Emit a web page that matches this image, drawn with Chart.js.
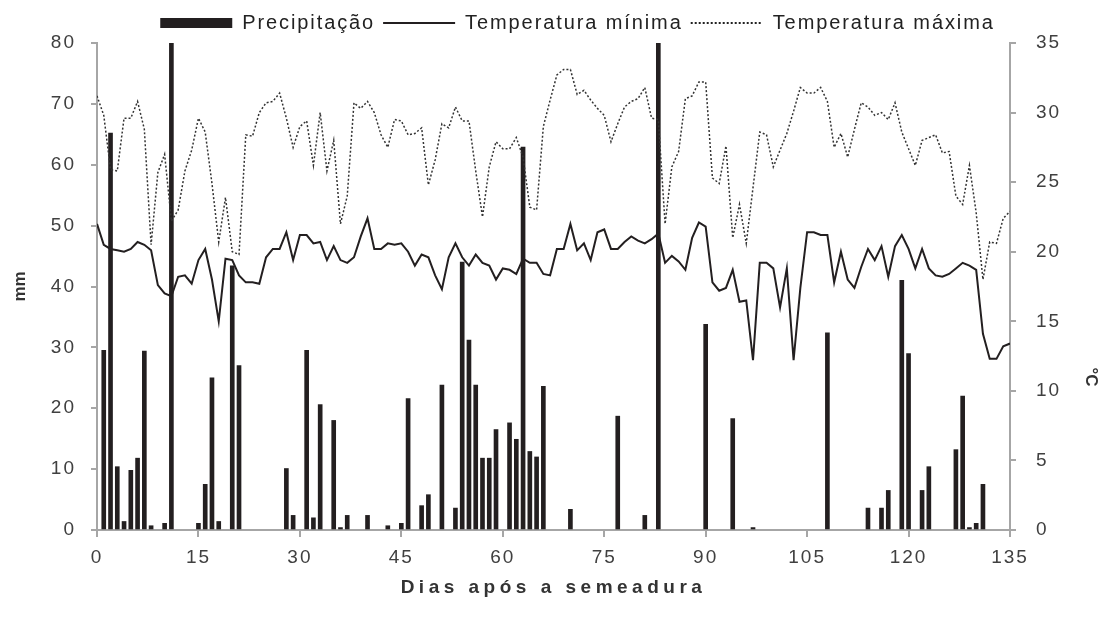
<!DOCTYPE html>
<html>
<head>
<meta charset="utf-8">
<script src="https://cdn.jsdelivr.net/npm/chart.js@4"></script>
<style>
  html, body { margin: 0; padding: 0; background: #fff; }
</style>
</head>
<body>
<canvas id="myChart" width="1111" height="632"></canvas>
<script>
// days after sowing that had rain, and the rain in mm
const rainDays = [1, 2, 3, 4, 5, 6, 7, 8, 10, 11, 15, 16, 17, 18, 20, 21, 28, 29, 31, 32,
    33, 35, 36, 37, 40, 43, 45, 46, 48, 49, 51, 53, 54, 55, 56, 57, 58, 59, 61, 62,
    63, 64, 65, 66, 70, 77, 81, 83, 90, 94, 97, 108, 114, 116, 117, 119, 120, 122, 123, 127,
    128, 129, 130, 131];
const rainMm = [29.5, 65.2, 10.4, 1.4, 9.8, 11.8, 29.4, 0.7, 1.1, 80, 1.1, 7.5, 25.0, 1.4, 43.4, 27.0, 10.1, 2.4, 29.5, 2.0,
    20.6, 18.0, 0.4, 2.4, 2.4, 0.7, 1.1, 21.6, 4.0, 5.8, 23.8, 3.6, 44.0, 31.2, 23.8, 11.8, 11.8, 16.5, 17.6, 14.9,
    62.9, 12.9, 12.0, 23.6, 3.4, 18.7, 2.4, 80, 33.8, 18.3, 0.4, 32.4, 3.6, 3.6, 6.5, 41.0, 29.0, 6.5, 10.4, 13.2,
    22.0, 0.4, 1.1, 7.5];

// daily temperatures, day 0 .. 135
const tempMin = [
    22.0, 20.5, 20.2, 20.1, 20.0, 20.2, 20.7, 20.5, 20.1, 17.6,
    17.0, 16.8, 18.2, 18.3, 17.7, 19.4, 20.2, 18.0, 15.0, 19.5,
    19.4, 18.3, 17.8, 17.8, 17.7, 19.6, 20.2, 20.2, 21.4, 19.4,
    21.2, 21.2, 20.6, 20.7, 19.4, 20.4, 19.4, 19.2, 19.6, 21.1,
    22.4, 20.2, 20.2, 20.6, 20.5, 20.6, 20.0, 19.0, 19.8, 19.6,
    18.3, 17.3, 19.6, 20.6, 19.6, 19.0, 19.8, 19.2, 19.0, 18.0,
    18.8, 18.7, 18.4, 19.5, 19.2, 19.2, 18.4, 18.3, 20.2, 20.2,
    22.0, 20.1, 20.6, 19.4, 21.4, 21.6, 20.2, 20.2, 20.7, 21.1,
    20.8, 20.6, 20.9, 21.3, 19.2, 19.7, 19.3, 18.7, 21.0, 22.1,
    21.8, 17.8, 17.2, 17.4, 18.7, 16.4, 16.5, 12.2, 19.2, 19.2,
    18.8, 16.0, 18.8, 12.2, 17.4, 21.4, 21.4, 21.2, 21.2, 17.8,
    20.0, 18.0, 17.4, 18.9, 20.2, 19.4, 20.4, 18.2, 20.4, 21.2,
    20.2, 18.8, 20.2, 18.8, 18.3, 18.2, 18.4, 18.8, 19.2, 19.0,
    18.7, 14.1, 12.3, 12.3, 13.2, 13.4];
const tempMax = [
    31.2, 29.8, 25.9, 25.8, 29.6, 29.6, 30.8, 28.8, 20.5, 25.7,
    27.0, 22.2, 23.0, 25.8, 27.3, 29.6, 28.6, 24.9, 20.7, 23.9,
    20.0, 19.8, 28.4, 28.3, 30.0, 30.7, 30.8, 31.4, 29.6, 27.5,
    29.0, 29.4, 26.2, 30.0, 25.8, 28.0, 22.0, 24.0, 30.7, 30.3,
    30.8, 30.0, 28.4, 27.5, 29.5, 29.4, 28.4, 28.5, 28.9, 24.8,
    26.6, 29.2, 28.9, 30.4, 29.4, 29.4, 25.8, 22.5, 26.1, 27.9,
    27.4, 27.4, 28.2, 26.8, 23.2, 23.0, 29.0, 30.9, 32.7, 33.1,
    33.1, 31.3, 31.6, 30.9, 30.3, 29.8, 27.9, 29.2, 30.4, 30.8,
    31.0, 31.8, 29.6, 29.5, 22.0, 26.1, 27.2, 31.0, 31.2, 32.2,
    32.2, 25.3, 24.9, 27.6, 21.0, 23.4, 20.6, 24.6, 28.6, 28.4,
    26.1, 27.3, 28.5, 30.1, 31.8, 31.4, 31.4, 31.8, 30.8, 27.5,
    28.5, 26.8, 28.8, 30.7, 30.4, 29.8, 30.0, 29.5, 30.7, 28.6,
    27.4, 26.2, 28.0, 28.2, 28.4, 27.1, 27.2, 24.0, 23.4, 26.2,
    22.8, 18.0, 20.7, 20.6, 22.4, 22.9];

const rainPoints = rainDays.map((d, i) => ({ x: d, y: rainMm[i] }));
const minPoints = tempMin.map((t, d) => ({ x: d, y: t }));
const maxPoints = tempMax.map((t, d) => ({ x: d, y: t }));

const axisGray = '#a6a6a6';
const labelColor = '#404040';
const family = '"Liberation Sans", Arial, sans-serif';

Chart.defaults.font.family = family;
Chart.defaults.color = labelColor;

// the original text is set wide; give each text size its own letter spacing
const canvas = document.getElementById('myChart');
const g = canvas.getContext('2d');
function spacingFor(font) {
    if (font.indexOf('bold') >= 0) return font.indexOf('19px') >= 0 ? '4.5px' : '0px';
    if (font.indexOf('20px') >= 0) return '1.9px';
    if (font.indexOf('19px') >= 0) return '2px';
    return '0px';
}
if ('letterSpacing' in g) {
    const origFill = g.fillText.bind(g);
    const origMeasure = g.measureText.bind(g);
    g.fillText = function (...args) { g.letterSpacing = spacingFor(g.font); return origFill(...args); };
    g.measureText = function (t) { g.letterSpacing = spacingFor(g.font); return origMeasure(t); };
}

// right-hand axis title sits below the middle of the axis in the original
const rightTitle = {
    id: 'rightTitle',
    afterDraw(chart) {
        const c = chart.ctx;
        c.save();
        c.translate(1091, 377);
        c.rotate(Math.PI / 2);
        c.font = 'bold 17px ' + family;
        c.fillStyle = '#333';
        c.textAlign = 'center';
        c.textBaseline = 'middle';
        c.fillText('°C', 0, 0);
        c.restore();
    }
};

const data = {
    datasets: [{
        type: 'bar',
        label: 'Precipitação',
        data: rainPoints,
        backgroundColor: '#231f20',
        borderWidth: 0,
        barThickness: 4,
        yAxisID: 'y',
        order: 2
    }, {
        type: 'line',
        label: 'Temperatura mínima',
        data: minPoints,
        borderColor: '#231f20',
        backgroundColor: '#231f20',
        borderWidth: 2,
        pointRadius: 0,
        tension: 0,
        yAxisID: 'y1',
        order: 1
    }, {
        type: 'line',
        label: 'Temperatura máxima',
        data: maxPoints,
        borderColor: '#333333',
        backgroundColor: '#333333',
        borderWidth: 1.5,
        borderDash: [2, 2],
        pointRadius: 0,
        tension: 0,
        yAxisID: 'y1',
        order: 0
    }]
};

const config = {
    type: 'bar',
    data: data,
    plugins: [rightTitle],
    options: {
        responsive: false,
        animation: false,
        layout: { padding: { top: 5, left: 44, right: 0, bottom: 0 } },
        plugins: {
            tooltip: { enabled: false },
            legend: {
                position: 'top',
                labels: {
                    usePointStyle: true,
                    pointStyleWidth: 72,
                    boxHeight: 10,
                    padding: 8,
                    color: '#222',
                    font: { size: 20 },
                    generateLabels: (chart) => {
                        const items = Chart.defaults.plugins.legend.labels.generateLabels(chart);
                        items.sort((a, b) => a.datasetIndex - b.datasetIndex);
                        items[0].pointStyle = 'rect';
                        items[0].lineWidth = 0;
                        items[1].pointStyle = 'line';
                        items[2].pointStyle = 'line';
                        items[2].lineWidth = 2;
                        items[2].lineDash = [2, 2];
                        items[2].strokeStyle = '#222';
                        return items;
                    }
                }
            }
        },
        scales: {
            x: {
                type: 'linear',
                min: 0,
                max: 135,
                offset: false,
                grid: { display: true, drawOnChartArea: false, offset: false, tickLength: 7, color: axisGray, lineWidth: 2 },
                border: { color: axisGray, width: 2 },
                ticks: { stepSize: 15, padding: 9, font: { size: 19 }, color: labelColor },
                title: {
                    display: true,
                    text: 'Dias após a semeadura',
                    font: { size: 19, weight: 'bold' },
                    color: '#333',
                    padding: { top: 0, bottom: 33 }
                },
                afterFit: (scale) => { scale.height = 102; }
            },
            y: {
                position: 'left',
                min: 0,
                max: 80,
                grid: { display: true, drawOnChartArea: false, tickLength: 6, color: axisGray, lineWidth: 2 },
                border: { color: axisGray, width: 2 },
                ticks: { stepSize: 10, padding: 15, font: { size: 19 }, color: labelColor },
                title: {
                    display: true,
                    text: 'mm',
                    font: { size: 17, weight: 'bold' },
                    color: '#333',
                    padding: { top: -34, bottom: 0 }
                },
                afterFit: (scale) => { scale.width = 53; }
            },
            y1: {
                position: 'right',
                min: 0,
                max: 35,
                grid: { display: true, drawOnChartArea: false, tickLength: 6, color: axisGray, lineWidth: 2 },
                border: { color: axisGray, width: 2 },
                ticks: { stepSize: 5, padding: 20, font: { size: 19 }, color: labelColor },
                afterFit: (scale) => { scale.width = 101; }
            }
        }
    }
};

const chart = new Chart(canvas, config);
</script>
</body>
</html>
